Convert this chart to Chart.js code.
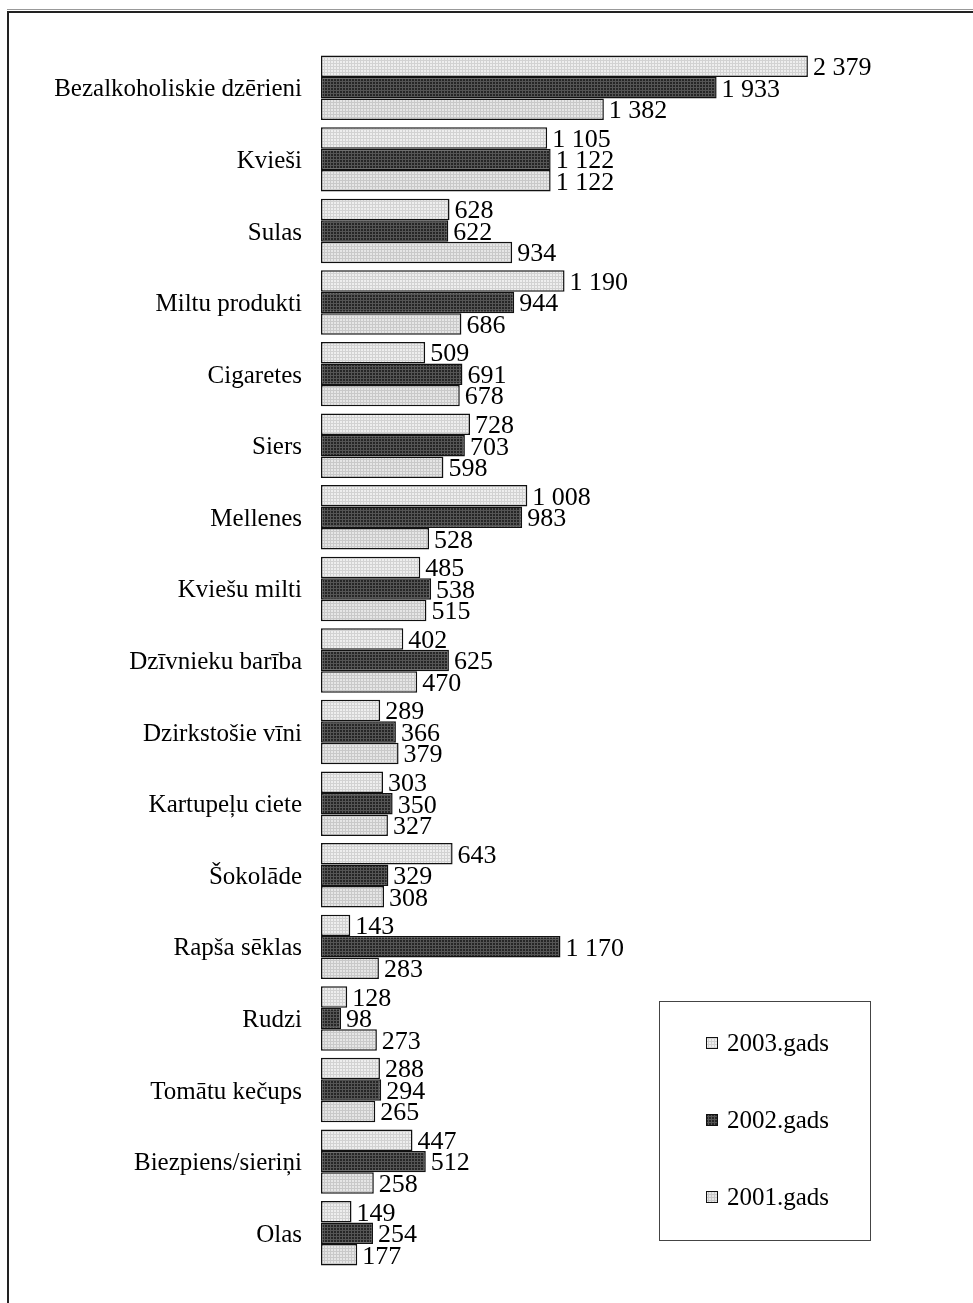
<!DOCTYPE html>
<html>
<head>
<meta charset="utf-8">
<script src="https://cdn.jsdelivr.net/npm/chart.js@4/dist/chart.umd.min.js"></script>
<style>
  html, body { margin: 0; padding: 0; background: #fff; }
  #wrap { position: relative; width: 973px; height: 1303px; }
</style>
</head>
<body>
<div id="wrap"><canvas id="chart" width="973" height="1303"></canvas></div>
<script>
const categories = [
  'Bezalkoholiskie dzērieni', 'Kvieši', 'Sulas', 'Miltu produkti', 'Cigaretes',
  'Siers', 'Mellenes', 'Kviešu milti', 'Dzīvnieku barība', 'Dzirkstošie vīni',
  'Kartupeļu ciete', 'Šokolāde', 'Rapša sēklas', 'Rudzi', 'Tomātu kečups',
  'Biezpiens/sieriņi', 'Olas'
];
const seriesNames = ['2003.gads', '2002.gads', '2001.gads'];
const values2003 = [2379, 1105, 628, 1190, 509, 728, 1008, 485, 402, 289, 303, 643, 143, 128, 288, 447, 149];
const values2002 = [1933, 1122, 622, 944, 691, 703, 983, 538, 625, 366, 350, 329, 1170, 98, 294, 512, 254];
const values2001 = [1382, 1122, 934, 686, 678, 598, 528, 515, 470, 379, 327, 308, 283, 273, 265, 258, 177];

const FONT = '"Liberation Serif", "Times New Roman", serif';

// small dotted fills like the old office print patterns
function makePattern(base, dot, step) {
  const c = document.createElement('canvas');
  c.width = step; c.height = step;
  const g = c.getContext('2d');
  g.fillStyle = base;
  g.fillRect(0, 0, step, step);
  g.fillStyle = dot;
  g.fillRect(0, 0, 1, step);
  g.fillRect(0, 0, step, 1);
  return g.createPattern(c, 'repeat');
}

const ctx = document.getElementById('chart').getContext('2d');
const fills = [
  makePattern('#eeeeee', '#d2d2d2', 3),
  makePattern('#262626', '#555555', 3),
  makePattern('#e6e6e6', '#c9c9c9', 3)
];

function fmt(v) {
  return String(v).replace(/\B(?=(\d{3})+(?!\d))/g, ' ');
}

const valueLabels = {
  id: 'valueLabels',
  afterDatasetsDraw(chart) {
    const c = chart.ctx;
    c.save();
    c.font = '26px ' + FONT;
    c.fillStyle = '#000';
    c.textBaseline = 'middle';
    c.textAlign = 'left';
    chart.data.datasets.forEach((ds, i) => {
      chart.getDatasetMeta(i).data.forEach((bar, j) => {
        c.fillText(fmt(ds.data[j]), bar.x + 5, bar.y + 2);
      });
    });
    c.restore();
  }
};

const frameAndLegend = {
  id: 'frameAndLegend',
  afterDraw(chart) {
    const c = chart.ctx;
    c.save();
    // outer frame (top + left)
    c.strokeStyle = '#999';
    c.lineWidth = 1;
    c.beginPath(); c.moveTo(7, 9.5); c.lineTo(973, 9.5); c.stroke();
    c.strokeStyle = '#222';
    c.lineWidth = 2;
    c.beginPath(); c.moveTo(973, 12); c.lineTo(8, 12); c.lineTo(8, 1303); c.stroke();

    // legend box
    c.strokeStyle = '#444';
    c.lineWidth = 1;
    c.strokeRect(659.5, 1001.5, 211, 239);
    c.font = '25px ' + FONT;
    c.textBaseline = 'middle';
    c.textAlign = 'left';
    const ys = [1043, 1120, 1197];
    chart.data.datasets.forEach((ds, i) => {
      const y = ys[i];
      c.fillStyle = ds.backgroundColor;
      c.fillRect(706, y - 6, 12, 12);
      c.strokeStyle = '#111';
      c.strokeRect(706.5, y - 5.5, 11, 11);
      c.fillStyle = '#000';
      c.fillText(ds.label, 727, y + 1);
    });
    c.restore();
  }
};

new Chart(ctx, {
  type: 'bar',
  data: {
    labels: categories,
    datasets: [
      { label: seriesNames[0], data: values2003, backgroundColor: fills[0] },
      { label: seriesNames[1], data: values2002, backgroundColor: fills[1] },
      { label: seriesNames[2], data: values2001, backgroundColor: fills[2] }
    ].map(d => Object.assign(d, {
      borderColor: '#111',
      borderWidth: 1.5,
      borderSkipped: false,
      categoryPercentage: 0.9,
      barPercentage: 1.0
    }))
  },
  options: {
    indexAxis: 'y',
    responsive: false,
    animation: false,
    layout: { padding: { left: 0, right: 38, top: 52, bottom: 29 } },
    scales: {
      x: {
        display: false,
        min: 0,
        max: 3000
      },
      y: {
        grid: { display: false, drawTicks: false },
        border: { display: false },
        ticks: {
          color: '#000',
          padding: 19,
          labelOffset: 2,
          font: { family: FONT, size: 25 }
        },
        afterFit(scale) { scale.width = 321; }
      }
    },
    plugins: {
      legend: { display: false },
      tooltip: { enabled: false }
    }
  },
  plugins: [valueLabels, frameAndLegend]
});
</script>
</body>
</html>
